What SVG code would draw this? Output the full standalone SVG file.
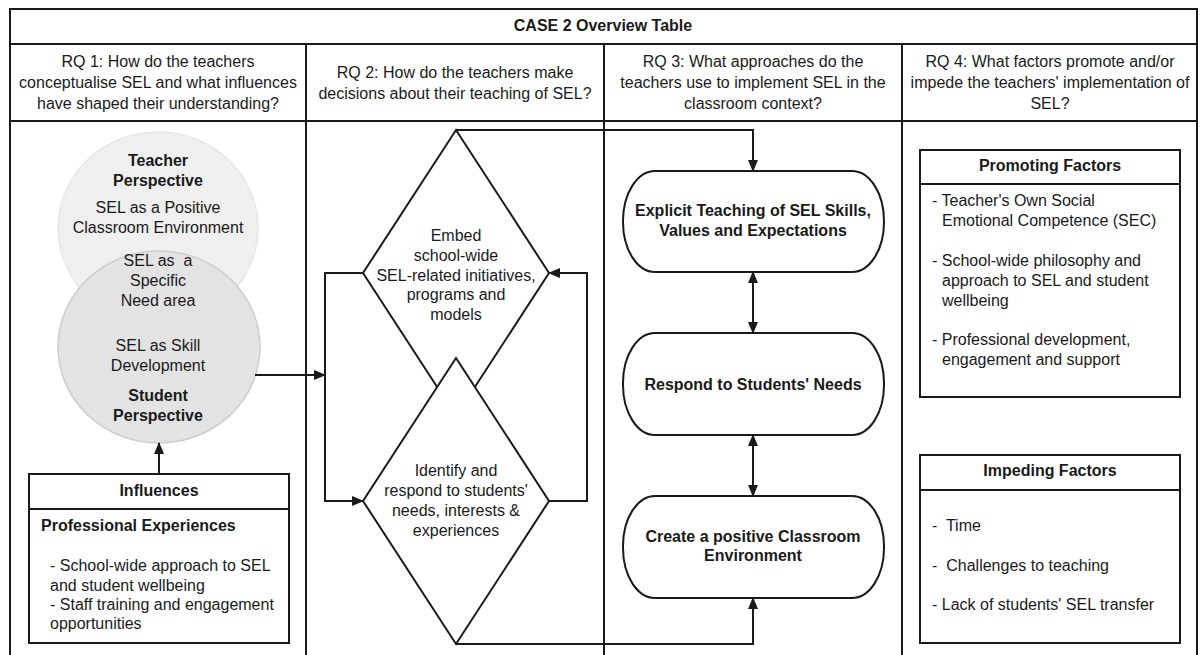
<svg xmlns="http://www.w3.org/2000/svg" width="1203" height="655" viewBox="0 0 1203 655">
  <style>
    text { font-family: "Liberation Sans", Arial, sans-serif; font-size: 16px; fill: #1a1a1a; }
    .b { font-weight: bold; }
    .c { text-anchor: middle; }
    .grid { stroke: #1a1a1a; stroke-width: 2; fill: none; }
    .shape { stroke: #1a1a1a; stroke-width: 2; fill: #ffffff; }
    .conn { stroke: #1a1a1a; stroke-width: 2; fill: none; }
  </style>
  <defs>
    <marker id="arrow" markerUnits="userSpaceOnUse" markerWidth="12" markerHeight="10" refX="11" refY="5" orient="auto-start-reverse">
      <path d="M0,0 L12,5 L0,10 z" fill="#1a1a1a"/>
    </marker>
  </defs>

  <rect width="1203" height="655" fill="#ffffff"/>

  <!-- table frame -->
  <g id="table" class="grid">
    <path d="M10,660 V9 H1197 V660"/>
    <path d="M10,44 H1197 M10,121 H1197"/>
    <path d="M306,44 V660 M604,44 V660 M902,44 V660"/>
  </g>

  <!-- title and column headers -->
  <g id="headers">
    <text class="b c" x="603" y="31">CASE 2 Overview Table</text>
    <text class="c" x="158" y="67">RQ 1: How do the teachers</text>
    <text class="c" x="158" y="88">conceptualise SEL and what influences</text>
    <text class="c" x="158" y="109">have shaped their understanding?</text>
    <text class="c" x="455" y="78">RQ 2: How do the teachers make</text>
    <text class="c" x="455" y="99">decisions about their teaching of SEL?</text>
    <text class="c" x="753" y="67">RQ 3: What approaches do the</text>
    <text class="c" x="753" y="88">teachers use to implement SEL in the</text>
    <text class="c" x="753" y="109">classroom context?</text>
    <text class="c" x="1050" y="67">RQ 4: What factors promote and/or</text>
    <text class="c" x="1050" y="88">impede the teachers' implementation of</text>
    <text class="c" x="1050" y="109">SEL?</text>
  </g>

  <!-- RQ1: perspectives -->
  <g id="teacher-perspective">
    <ellipse cx="158" cy="228" rx="100" ry="96" fill="#efefef" stroke="#e6e6e6" stroke-width="1.5"/>
  </g>
  <g id="student-perspective">
    <ellipse cx="159" cy="347" rx="101" ry="96" fill="#e3e3e3" stroke="#cdcdcd" stroke-width="1.5"/>
  </g>
  <g id="perspective-labels">
    <text class="b c" x="158" y="166">Teacher</text>
    <text class="b c" x="158" y="186">Perspective</text>
    <text class="c" x="158" y="213">SEL as a Positive</text>
    <text class="c" x="158" y="233">Classroom Environment</text>
    <text class="c" x="158" y="266" xml:space="preserve">SEL as  a</text>
    <text class="c" x="158" y="286">Specific</text>
    <text class="c" x="158" y="306">Need area</text>
    <text class="c" x="158" y="351">SEL as Skill</text>
    <text class="c" x="158" y="371">Development</text>
    <text class="b c" x="158" y="401">Student</text>
    <text class="b c" x="158" y="421">Perspective</text>
  </g>

  <g id="influences">
    <rect class="shape" x="29" y="474" width="260" height="169"/>
    <line class="grid" x1="29" y1="509" x2="289" y2="509"/>
    <text class="b c" x="159" y="496">Influences</text>
    <text class="b" x="41" y="531">Professional Experiences</text>
    <text x="50" y="571">- School-wide approach to SEL</text>
    <text x="50" y="591">and student wellbeing</text>
    <text x="50" y="610">- Staff training and engagement</text>
    <text x="50" y="629">opportunities</text>
  </g>

  <!-- RQ2: decision diamonds -->
  <g id="embed">
    <polygon class="shape" points="456,130 549,273 456,416 363,273"/>
    <text class="c" x="456" y="241">Embed</text>
    <text class="c" x="456" y="261">school-wide</text>
    <text class="c" x="456" y="281">SEL-related initiatives,</text>
    <text class="c" x="456" y="300">programs and</text>
    <text class="c" x="456" y="320">models</text>
  </g>
  <g id="identify">
    <polygon class="shape" points="456,358 549,501 456,644 363,501"/>
    <text class="c" x="456" y="476">Identify and</text>
    <text class="c" x="456" y="496">respond to students'</text>
    <text class="c" x="456" y="516">needs, interests &amp;</text>
    <text class="c" x="456" y="536">experiences</text>
  </g>

  <!-- RQ3: approaches -->
  <g id="explicit-teaching">
    <rect class="shape" x="623" y="171" width="261" height="101" rx="32" ry="50"/>
    <text class="b c" x="753" y="216">Explicit Teaching of SEL Skills,</text>
    <text class="b c" x="753" y="236">Values and Expectations</text>
  </g>
  <g id="respond-needs">
    <rect class="shape" x="623" y="333" width="261" height="102" rx="32" ry="50"/>
    <text class="b c" x="753" y="390">Respond to Students' Needs</text>
  </g>
  <g id="positive-environment">
    <rect class="shape" x="623" y="496" width="261" height="102" rx="32" ry="50"/>
    <text class="b c" x="753" y="542">Create a positive Classroom</text>
    <text class="b c" x="753" y="561">Environment</text>
  </g>

  <!-- RQ4: factors -->
  <g id="promoting-factors">
    <rect class="shape" x="920" y="150" width="260" height="247"/>
    <line class="grid" x1="920" y1="184" x2="1180" y2="184"/>
    <text class="b c" x="1050" y="171">Promoting Factors</text>
    <text x="932" y="206">- Teacher's Own Social</text>
    <text x="942" y="226">Emotional Competence (SEC)</text>
    <text x="932" y="266">- School-wide philosophy and</text>
    <text x="942" y="286">approach to SEL and student</text>
    <text x="942" y="306">wellbeing</text>
    <text x="932" y="345">- Professional development,</text>
    <text x="942" y="365">engagement and support</text>
  </g>
  <g id="impeding-factors">
    <rect class="shape" x="920" y="455" width="260" height="188"/>
    <line class="grid" x1="920" y1="490" x2="1180" y2="490"/>
    <text class="b c" x="1050" y="476">Impeding Factors</text>
    <text x="932" y="531" xml:space="preserve">-  Time</text>
    <text x="932" y="571" xml:space="preserve">-  Challenges to teaching</text>
    <text x="932" y="610">- Lack of students' SEL transfer</text>
  </g>

  <!-- connectors -->
  <g id="connectors" class="conn">
    <path d="M159,474 V443" marker-end="url(#arrow)"/>
    <path d="M255,375 H325" marker-end="url(#arrow)"/>
    <path d="M363,273 H325 V501 H363" marker-end="url(#arrow)"/>
    <path d="M549,501 H587 V273 H549" marker-end="url(#arrow)"/>
    <path d="M456,130 H753 V171" marker-end="url(#arrow)"/>
    <path d="M456,644 H753 V598" marker-end="url(#arrow)"/>
    <path d="M753,272 V333" marker-start="url(#arrow)" marker-end="url(#arrow)"/>
    <path d="M753,435 V496" marker-start="url(#arrow)" marker-end="url(#arrow)"/>
  </g>
</svg>
